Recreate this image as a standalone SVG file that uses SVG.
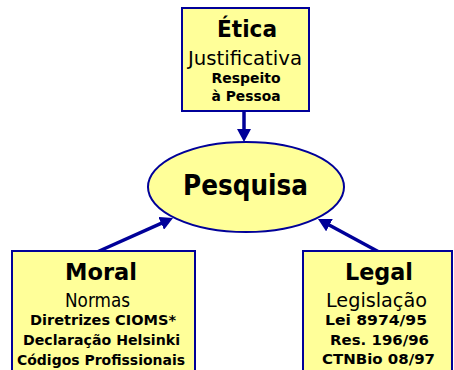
<svg xmlns="http://www.w3.org/2000/svg" width="454" height="370" viewBox="0 0 454 370">
<style>
.box{fill:#FFFF99;stroke:#000099;stroke-width:2}
.t{font-family:"DejaVu Sans",sans-serif;fill:#000;text-anchor:middle}
.c{font-family:"DejaVu Sans Condensed","DejaVu Sans",sans-serif;font-stretch:condensed}
.h{font-weight:bold;font-size:22.5px}
.s{font-size:19.5px}
.b{font-weight:bold;font-size:14px}
.arr{stroke:#000099;stroke-width:3.5;fill:none;marker-end:url(#ah)}
</style>
<defs>
<marker id="ah" markerUnits="userSpaceOnUse" markerWidth="13" markerHeight="14" refX="3" refY="7" orient="auto" viewBox="0 0 13 14">
<path d="M0,0 L13,7 L0,14 z" fill="#000099"/>
</marker>
</defs>
<rect width="454" height="370" fill="#fff"/>
<g id="connectors">
<line class="arr" x1="244" y1="111" x2="244" y2="132"/>
<line class="arr" x1="97" y1="252" x2="163.9" y2="222.1"/>
<line class="arr" x1="379" y1="252" x2="326.8" y2="223.8"/>
</g>
<g id="etica">
<rect class="box" x="182" y="8" width="127" height="103"/>
<text class="t h" x="247" y="37" textLength="60" lengthAdjust="spacingAndGlyphs">Ética</text>
<text class="t c s" x="245" y="65" textLength="114" lengthAdjust="spacingAndGlyphs">Justificativa</text>
<text class="t b" x="246" y="83" textLength="69" lengthAdjust="spacingAndGlyphs">Respeito</text>
<text class="t b" x="246" y="101" textLength="69" lengthAdjust="spacingAndGlyphs">à Pessoa</text>
</g>
<g id="pesquisa">
<ellipse cx="246" cy="187" rx="98" ry="45" fill="#FFFF99" stroke="#000099" stroke-width="2"/>
<text class="t c" x="245.5" y="195" style="font-weight:bold;font-size:27.5px" textLength="125" lengthAdjust="spacingAndGlyphs">Pesquisa</text>
</g>
<g id="moral">
<rect class="box" x="12" y="251" width="183" height="130"/>
<text class="t h" x="101" y="280" textLength="72" lengthAdjust="spacingAndGlyphs">Moral</text>
<text class="t c s" x="97.5" y="307" textLength="65" lengthAdjust="spacingAndGlyphs">Normas</text>
<text class="t b" x="103" y="325" textLength="146" lengthAdjust="spacingAndGlyphs">Diretrizes CIOMS*</text>
<text class="t b" x="101.5" y="345" textLength="157" lengthAdjust="spacingAndGlyphs">Declaração Helsinki</text>
<text class="t b" x="101" y="365" textLength="168" lengthAdjust="spacingAndGlyphs">Códigos Profissionais</text>
</g>
<g id="legal">
<rect class="box" x="303" y="251" width="149" height="130"/>
<text class="t h" x="379" y="280" textLength="68" lengthAdjust="spacingAndGlyphs">Legal</text>
<text class="t c s" x="376.5" y="307" textLength="101" lengthAdjust="spacingAndGlyphs">Legislação</text>
<text class="t b" x="376" y="325" textLength="102" lengthAdjust="spacingAndGlyphs">Lei 8974/95</text>
<text class="t b" x="379.5" y="345" textLength="99" lengthAdjust="spacingAndGlyphs">Res. 196/96</text>
<text class="t b" x="378.5" y="364" textLength="113" lengthAdjust="spacingAndGlyphs">CTNBio 08/97</text>
</g>
</svg>
